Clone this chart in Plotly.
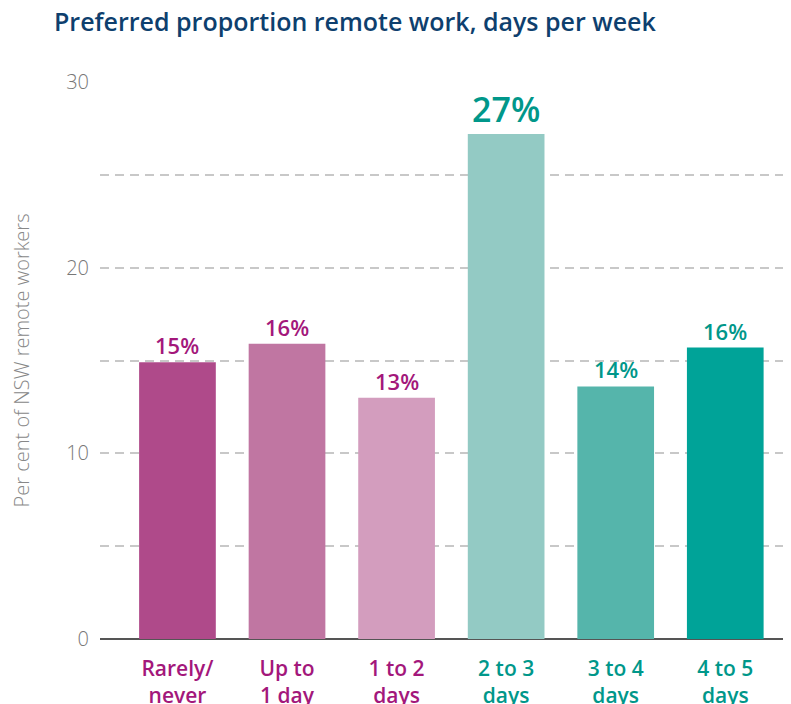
import plotly.graph_objects as go

categories = ["Rarely/<br>never", "Up to<br>1 day", "1 to 2<br>days", "2 to 3<br>days", "3 to 4<br>days", "4 to 5<br>days"]
values = [14.9, 15.9, 13.0, 27.2, 13.6, 15.7]
labels = ["15%", "16%", "13%", "27%", "14%", "16%"]
bar_colors = ["#AF4A8A", "#C076A2", "#D39DBE", "#93CAC4", "#55B5AB", "#00A398"]
text_colors = ["#A3177B", "#A3177B", "#A3177B", "#00978A", "#00978A", "#00978A"]
label_sizes = [22, 22, 22, 34, 22, 22]

FONT = "Open Sans"
x = list(range(len(categories)))

# the page body has an 8px margin, so the figure is 8px smaller than the window
W, H = 783, 696

fig = go.Figure()
fig.add_trace(go.Bar(
    x=x,
    y=values,
    marker_color=bar_colors,
    marker_line_width=0,
    width=0.7,
    hoverinfo="skip",
))

for xi, v, lab, c, s in zip(x, values, labels, text_colors, label_sizes):
    fig.add_annotation(
        x=xi, y=v, text=lab, showarrow=False, yanchor="bottom", yshift=0,
        font=dict(family=FONT, size=s, color=c, weight=600),
    )

ticktext = [f"<span style='color:{c}'>{t}</span>" for t, c in zip(categories, text_colors)]

fig.update_layout(
    width=W,
    height=H,
    margin=dict(l=92, r=0, t=74, b=65, autoexpand=False),
    paper_bgcolor="white",
    plot_bgcolor="white",
    showlegend=False,
    title=dict(
        text="Preferred proportion remote work, days per week",
        x=46 / W, xanchor="left", y=1 - 14 / H, yanchor="middle",
        font=dict(family=FONT, size=25, color="#0E3F6E", weight=600),
    ),
    xaxis=dict(
        range=[-0.707, 5.6],
        tickvals=x,
        ticktext=ticktext,
        tickfont=dict(family=FONT, size=21, weight=600),
        showgrid=False,
        zeroline=False,
        showline=False,
        ticks="",
        ticklabelstandoff=15,
        automargin=False,
    ),
    yaxis=dict(
        range=[0, 30],
        dtick=10,
        tick0=0,
        showgrid=True,
        gridcolor="#C8C8C8",
        gridwidth=1.5,
        griddash="9px,6px",
        minor=dict(dtick=5, showgrid=True, gridcolor="#C8C8C8", gridwidth=1.5, griddash="9px,6px"),
        zeroline=True,
        zerolinecolor="#555555",
        zerolinewidth=1.5,
        showline=False,
        ticks="",
        ticklabelstandoff=10,
        automargin=False,
        tickfont=dict(family=FONT, size=20, color="#777777", weight=300),
        title=dict(
            text="Per cent of NSW remote workers",
            font=dict(family=FONT, size=20, color="#888888", weight=300),
            standoff=38,
        ),
    ),
)

fig.write_html("out.html")
